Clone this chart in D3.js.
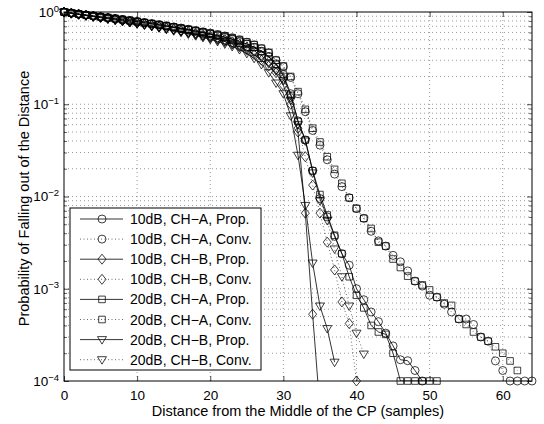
<!DOCTYPE html>
<html>
<head>
<meta charset="utf-8">
<script src="https://cdn.jsdelivr.net/npm/d3@7"></script>
<style>
  body { margin: 0; background: #fff; }
  text { font-family: "Liberation Sans", Arial, Helvetica, sans-serif; fill: #000; }
</style>
</head>
<body>
<svg id="chart" width="544" height="424"></svg>
<script>
// probability per distance (index = samples from the middle of the CP)
const prop10A = [1, .973, .95, .928, .907, .886, .865, .845, .825, .804,
  .784, .763, .742, .721, .7, .68, .66, .64, .62, .598,
  .577, .555, .532, .508, .48, .45, .415, .375, .33, .275,
  .21, .13, .066, .041, .019, .0095, .006, .0037, .0024, .0018,
  .001, .00076, .00056, .00044, .00033, .00024, .00017, .000166, .00013, 1e-4];
const conv10A = [1, .975, .952, .93, .91, .89, .87, .85, .83, .81,
  .79, .77, .75, .73, .71, .69, .67, .65, .63, .61,
  .59, .57, .55, .525, .5, .47, .44, .40, .36, .30,
  .255, .195, .13, .083, .052, .036, .025, .0175, .0128, .0097,
  .0074, .0058, .0042, .0033, .0029, .0023, .00196, .00156, .00121, .00107,
  .00085, .00081, .00068, .00056, .00047, .00047, .00041, .0003, .00027, .000165,
  .00013, 1e-4, 1e-4, 1e-4, 1e-4];
const prop10B = [1, .97, .944, .92, .897, .874, .851, .828, .805, .782,
  .759, .736, .713, .69, .667, .644, .621, .598, .575, .552,
  .528, .503, .477, .449, .419, .385, .345, .3, .26, .22,
  .16, .1, .05, .0066, .00053, .00005];
const conv10B = [1, .972, .946, .922, .9, .878, .856, .834, .812, .79,
  .768, .746, .724, .702, .68, .658, .636, .614, .592, .57,
  .548, .525, .5, .474, .447, .415, .38, .34, .29, .24,
  .19, .12, .055, .027, .0133, .0066, .0032, .0016, .00072, .00042,
  1e-4];
const prop20A = [1, .974, .951, .929, .908, .887, .866, .846, .826, .805,
  .785, .764, .743, .722, .701, .681, .661, .641, .621, .599,
  .578, .556, .533, .509, .481, .451, .416, .376, .33, .27,
  .2, .125, .065, .041, .019, .0105, .0063, .0038, .0024, .00135,
  .00085, .00062, .0004, .00034, .00032, .0002, 1e-4, 1e-4, 1e-4, 1e-4,
  1e-4, 1e-4];
const conv20A = [1, .976, .953, .931, .911, .891, .871, .851, .831, .811,
  .791, .771, .751, .731, .711, .691, .671, .651, .631, .611,
  .591, .571, .551, .527, .502, .473, .443, .405, .365, .30,
  .26, .20, .137, .088, .055, .039, .027, .0197, .0139, .0097,
  .0074, .0058, .0045, .0032, .0029, .0021, .0017, .00137, .00121, .0011,
  .00097, .00081, .0007, .00066, .00047, .00041, .00034, .0003, .00027, .000235,
  .0002, .000165, .00013];
const prop20B = [1, .968, .94, .914, .89, .866, .842, .818, .794, .77,
  .746, .722, .698, .674, .65, .626, .602, .578, .554, .53,
  .505, .479, .452, .423, .392, .356, .315, .27, .22, .17,
  .13, .075, .028, .008, .0019, .00065, .00037, .00016];
const conv20B = [1, .971, .944, .919, .896, .873, .85, .827, .804, .781,
  .758, .735, .712, .689, .666, .643, .62, .597, .574, .551,
  .528, .504, .479, .452, .424, .392, .357, .318, .275, .23,
  .18, .11, .06, .04, .018, .009, .0055, .0027, .00135, .00065,
  .00033, .000196];

const seriesNames = ["10dB, CH\u2212A, Prop.", "10dB, CH\u2212A, Conv.",
  "10dB, CH\u2212B, Prop.", "10dB, CH\u2212B, Conv.",
  "20dB, CH\u2212A, Prop.", "20dB, CH\u2212A, Conv.",
  "20dB, CH\u2212B, Prop.", "20dB, CH\u2212B, Conv."];
const seriesData = [prop10A, conv10A, prop10B, conv10B, prop20A, conv20A, prop20B, conv20B];
const seriesMarker = ["circle", "circle", "diamond", "diamond", "square", "square", "tri", "tri"];
const seriesDotted = [false, true, false, true, false, true, false, true];

const xTicks = [0, 10, 20, 30, 40, 50, 60];
const yTicks = [1e-4, 1e-3, 1e-2, 1e-1, 1];
const yExp = ["\u22124", "\u22123", "\u22122", "\u22121", "0"];

const svg = d3.select("#chart");
const margin = { top: 12, right: 12, bottom: 43, left: 64 };
const width = 544, height = 424;

const x = d3.scaleLinear().domain([0, 64]).range([margin.left, width - margin.right]);
const y = d3.scaleLog().domain([1e-4, 1]).range([height - margin.bottom, margin.top]);
const [x0, x1] = x.range();
const [y0, y1] = y.range();

// minor decade values for log grid
const yMinor = [];
for (let e = -4; e < 0; e++) for (let m = 2; m <= 9; m++) yMinor.push(m * Math.pow(10, e));

svg.append("rect").attr("x", 0).attr("y", 0).attr("width", width).attr("height", height).attr("fill", "#fff");

// grid
const grid = svg.append("g").attr("stroke", "#555").attr("stroke-width", 0.6).attr("stroke-dasharray", "1,3");
grid.selectAll("line.gx").data(xTicks.filter(d => d > 0)).enter().append("line")
  .attr("x1", d => x(d)).attr("x2", d => x(d)).attr("y1", y0).attr("y2", y1);
grid.selectAll("line.gy").data(yMinor.concat(yTicks.slice(1, -1))).enter().append("line")
  .attr("x1", x0).attr("x2", x1).attr("y1", d => y(d)).attr("y2", d => y(d));

// axes (ticks pointing inward, box on)
svg.append("g").attr("transform", `translate(0,${y0})`)
  .call(d3.axisBottom(x).tickValues(xTicks).tickSizeInner(-5).tickSizeOuter(0).tickPadding(9))
  .call(g => { g.select(".domain").remove(); g.selectAll("text").style("font-size", "13.5px"); g.selectAll("line").attr("stroke-width", 0.7); });
svg.append("g").attr("transform", `translate(0,${y1})`)
  .call(d3.axisTop(x).tickValues(xTicks).tickSizeInner(-5).tickSizeOuter(0).tickFormat(""))
  .call(g => { g.select(".domain").remove(); g.selectAll("line").attr("stroke-width", 0.7); });

const yl = svg.append("g").attr("transform", `translate(${x0},0)`)
  .call(d3.axisLeft(y).tickValues(yTicks).tickSizeInner(-5).tickSizeOuter(0).tickPadding(9).tickFormat(""))
  .call(g => { g.select(".domain").remove(); g.selectAll("line").attr("stroke-width", 0.7); });
yl.selectAll(".tick text").each(function (d, i) {
  const t = d3.select(this).style("font-size", "13.5px").attr("x", -5);
  t.append("tspan").text("10");
  t.append("tspan").attr("dy", "-0.55em").style("font-size", "9.5px").text(yExp[i]);
});
svg.append("g").attr("transform", `translate(${x0},0)`)
  .call(d3.axisLeft(y).tickValues(yMinor).tickSizeInner(-3).tickSizeOuter(0).tickFormat(""))
  .call(g => { g.select(".domain").remove(); g.selectAll("line").attr("stroke-width", 0.6); });
svg.append("g").attr("transform", `translate(${x1},0)`)
  .call(d3.axisRight(y).tickValues(yTicks).tickSizeInner(-5).tickSizeOuter(0).tickFormat(""))
  .call(g => { g.select(".domain").remove(); g.selectAll("line").attr("stroke-width", 0.7); });
svg.append("g").attr("transform", `translate(${x1},0)`)
  .call(d3.axisRight(y).tickValues(yMinor).tickSizeInner(-3).tickSizeOuter(0).tickFormat(""))
  .call(g => { g.select(".domain").remove(); g.selectAll("line").attr("stroke-width", 0.6); });

svg.append("rect").attr("x", x0).attr("y", y1).attr("width", x1 - x0).attr("height", y0 - y1)
  .attr("fill", "none").attr("stroke", "#000").attr("stroke-width", 1);

// axis labels
svg.append("text").attr("x", (x0 + x1) / 2).attr("y", 416).attr("text-anchor", "middle")
  .style("font-size", "14.5px").text("Distance from the Middle of the CP (samples)");
svg.append("text").attr("transform", `translate(29,${(y0 + y1) / 2 + 2})rotate(-90)`).attr("text-anchor", "middle")
  .style("font-size", "14.5px").text("Probability of Falling out of the Distance");

// marker shapes
function markerPath(type) {
  if (type === "circle") return "M4,0A4,4 0 1,1 -4,0A4,4 0 1,1 4,0Z";
  if (type === "square") return "M-3.3,-3.3H3.3V3.3H-3.3Z";
  if (type === "diamond") return "M0,-5L4,0L0,5L-4,0Z";
  return "M-4.5,-3L4.5,-3L0,4.5Z";
}

svg.append("defs").append("clipPath").attr("id", "plotclip")
  .append("rect").attr("x", x0).attr("y", y1).attr("width", x1 - x0).attr("height", y0 - y1);

const line = d3.line().x((d, i) => x(i)).y(d => y(d));
const plot = svg.append("g");

seriesData.forEach((vals, k) => {
  plot.append("path").datum(vals)
    .attr("clip-path", "url(#plotclip)")
    .attr("fill", "none").attr("stroke", "#000")
    .attr("stroke-width", seriesDotted[k] ? 0.6 : 0.8)
    .attr("stroke-dasharray", seriesDotted[k] ? "1,2.5" : null)
    .attr("d", line);
  plot.selectAll(null).data(vals.map((v, i) => [i, v]).filter(p => p[1] >= 1e-4))
    .enter().append("path")
    .attr("transform", p => `translate(${x(p[0])},${y(p[1])})`)
    .attr("d", markerPath(seriesMarker[k]))
    .attr("fill", "none").attr("stroke", "#000").attr("stroke-width", 0.75);
});

// legend
const lg = svg.append("g");
const lgX = 70, lgY = 208, lgW = 191, rowH = 20.1;
lg.append("rect").attr("x", lgX).attr("y", lgY).attr("width", lgW).attr("height", 162)
  .attr("fill", "#fff").attr("stroke", "#000").attr("stroke-width", 1);
seriesNames.forEach((name, k) => {
  const cy = lgY + 11 + k * rowH;
  lg.append("line").attr("x1", lgX + 10).attr("x2", lgX + 53).attr("y1", cy).attr("y2", cy)
    .attr("stroke", "#000").attr("stroke-width", seriesDotted[k] ? 0.6 : 0.8)
    .attr("stroke-dasharray", seriesDotted[k] ? "1,2.5" : null);
  lg.append("path").attr("transform", `translate(${lgX + 32},${cy})`)
    .attr("d", markerPath(seriesMarker[k]))
    .attr("fill", "none").attr("stroke", "#000").attr("stroke-width", 0.75);
  lg.append("text").attr("x", lgX + 60).attr("y", cy + 5).style("font-size", "14px").text(name);
});
</script>
</body>
</html>
